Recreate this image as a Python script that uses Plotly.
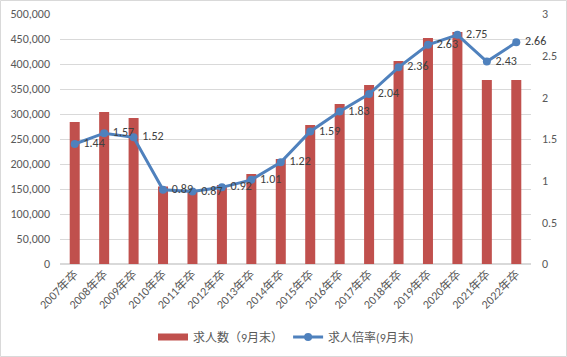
import plotly.graph_objects as go

categories = ["2007年卒", "2008年卒", "2009年卒", "2010年卒", "2011年卒", "2012年卒",
              "2013年卒", "2014年卒", "2015年卒", "2016年卒", "2017年卒", "2018年卒",
              "2019年卒", "2020年卒", "2021年卒", "2022年卒"]
job_openings = [284000, 304000, 292000, 155000, 147000, 158000, 180000, 210000,
                278000, 320000, 358000, 406000, 452000, 464000, 368000, 368000]
job_ratio = [1.44, 1.57, 1.52, 0.89, 0.87, 0.92, 1.01, 1.22,
             1.59, 1.83, 2.04, 2.36, 2.63, 2.75, 2.43, 2.66]

FONT = "Calibri, Carlito, 'Noto Sans CJK JP', sans-serif"
BAR_COLOR = "#C0504D"
LINE_COLOR = "#4F81BD"

fig = go.Figure()
fig.add_trace(go.Bar(
    x=categories, y=job_openings, name="求人数（9月末）", legendgroup="bar",
    marker=dict(color=BAR_COLOR, line=dict(width=0)), width=0.34, yaxis="y",
    showlegend=False,
))
# legend swatch for the bar series (wide rectangle like the original)
fig.add_trace(go.Scatter(
    x=[None], y=[None], name="求人数（9月末）", legendgroup="bar", mode="lines",
    line=dict(color=BAR_COLOR, width=7), yaxis="y", showlegend=True,
))
fig.add_trace(go.Scatter(
    x=categories, y=job_ratio, name="求人倍率(9月末)", yaxis="y2",
    mode="lines+markers+text", cliponaxis=False,
    line=dict(color=LINE_COLOR, width=3),
    marker=dict(color=LINE_COLOR, size=8),
    text=[f" {v:.2f}" for v in job_ratio], textposition="middle right",
    textfont=dict(color="#404040", size=12, family=FONT),
))

W, H = 567, 357
ml, mr, mt, mb = 60, 36, 14, 93
pw, ph = W - ml - mr, H - mt - mb

fig.update_layout(
    width=W, height=H,
    margin=dict(l=ml, r=mr, t=mt, b=mb, autoexpand=False),
    paper_bgcolor="white", plot_bgcolor="white",
    font=dict(family=FONT, color="#595959", size=12),
    showlegend=True,
    legend=dict(orientation="h", x=(286 - ml) / pw, xanchor="center",
                y=-(337 - (mt + ph)) / ph,
                yanchor="middle", font=dict(size=12, color="#595959"),
                itemwidth=30, tracegroupgap=0),
    xaxis=dict(tickangle=-45, showgrid=False, showline=False, ticks="", automargin=False,
               range=[-0.5, len(categories) - 0.5],
               tickfont=dict(size=12, color="#595959"), fixedrange=True),
    yaxis=dict(range=[0, 500000], dtick=50000, tickformat=",", showgrid=True, automargin=False,
               gridcolor="#D9D9D9", gridwidth=1, zeroline=True, zerolinecolor="#D9D9D9",
               showline=False, ticks="", ticklabelstandoff=9,
               tickfont=dict(size=12, color="#595959")),
    yaxis2=dict(range=[0, 3], dtick=0.5, overlaying="y", side="right", showgrid=False,
                zeroline=False, showline=False, ticks="", automargin=False,
                ticklabelstandoff=10,
                tickfont=dict(size=12, color="#595959")),
    shapes=[dict(type="rect", xref="paper", yref="paper",
                 x0=-(ml - 0.5) / pw, x1=1 + (mr - 0.5) / pw,
                 y0=-(mb - 0.5) / ph, y1=1 + (mt - 0.5) / ph,
                 line=dict(color="#D9D9D9", width=1), fillcolor="rgba(0,0,0,0)",
                 layer="below")],
)

fig.write_html("out.html", config={"displayModeBar": False},
               post_script="document.body.style.margin='0';document.body.style.overflow='hidden';")
